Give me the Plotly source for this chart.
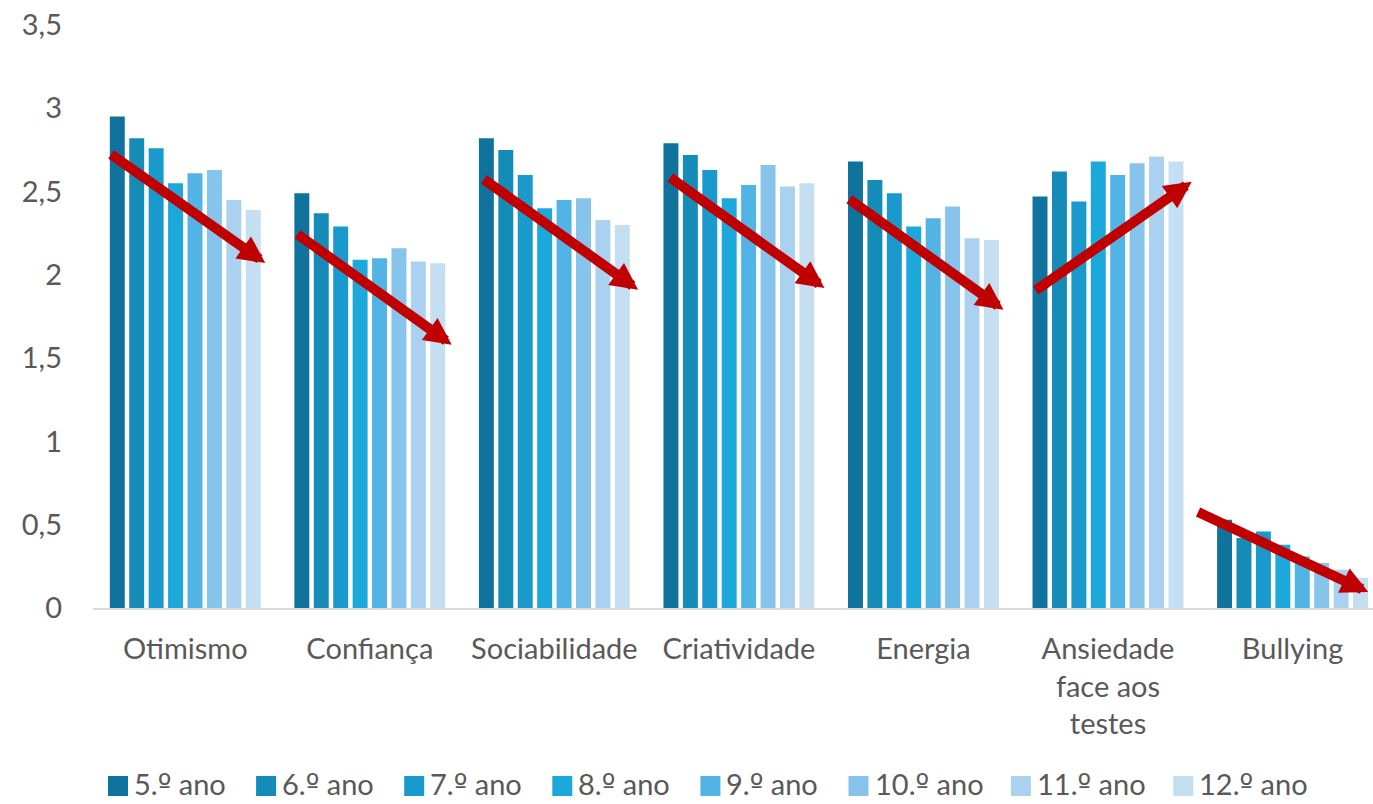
import plotly.graph_objects as go

# Dimensões avaliadas (eixo X) e anos de escolaridade (séries)
categorias = ["Otimismo", "Confiança", "Sociabilidade", "Criatividade",
              "Energia", "Ansiedade<br>face aos<br>testes", "Bullying"]
anos = ["5.º ano", "6.º ano", "7.º ano", "8.º ano",
        "9.º ano", "10.º ano", "11.º ano", "12.º ano"]

# Médias por dimensão, uma lista por ano
ano_5 = [2.95, 2.49, 2.82, 2.79, 2.68, 2.47, 0.53]
ano_6 = [2.82, 2.37, 2.75, 2.72, 2.57, 2.62, 0.42]
ano_7 = [2.76, 2.29, 2.60, 2.63, 2.49, 2.44, 0.46]
ano_8 = [2.55, 2.09, 2.40, 2.46, 2.29, 2.68, 0.38]
ano_9 = [2.61, 2.10, 2.45, 2.54, 2.34, 2.60, 0.31]
ano_10 = [2.63, 2.16, 2.46, 2.66, 2.41, 2.67, 0.27]
ano_11 = [2.45, 2.08, 2.33, 2.53, 2.22, 2.71, 0.23]
ano_12 = [2.39, 2.07, 2.30, 2.55, 2.21, 2.68, 0.18]
series = [ano_5, ano_6, ano_7, ano_8, ano_9, ano_10, ano_11, ano_12]

cores = ["#10739E", "#158BB8", "#1999CC", "#1DA8DB",
         "#52B4E4", "#86C4EB", "#AAD2F0", "#C4DFF2"]

# Setas de tendência: nível inicial e final de cada dimensão
seta_inicio = [2.73, 2.25, 2.58, 2.59, 2.46, 1.90, 0.58]
seta_fim = [2.05, 1.56, 1.89, 1.90, 1.77, 2.58, 0.08]
# extensão horizontal das setas em relação ao centro do grupo
seta_dx0 = [-0.41, -0.40, -0.39, -0.38, -0.41, -0.40, -0.52]
seta_dx1 = [0.46, 0.47, 0.48, 0.49, 0.46, 0.48, 0.44]

FONTE = "Lato"
CINZA = "#595959"
TAM = 29


def rotulo(txt):
    # o indicador ordinal "º" sublinhado vem de outra família
    return txt.replace("º", '<span style="font-family:DejaVu Sans">º</span>')


fig = go.Figure()
for nome, valores, cor in zip(anos, series, cores):
    fig.add_trace(go.Bar(
        x=categorias, y=valores, name=nome,
        marker=dict(color=cor, line=dict(width=0)),
        showlegend=False,
    ))

# Setas vermelhas sobre cada grupo
for i, (y0, y1, d0, d1) in enumerate(zip(seta_inicio, seta_fim, seta_dx0, seta_dx1)):
    fig.add_annotation(
        x=i + d1, y=y1, ax=i + d0, ay=y0,
        xref="x", yref="y", axref="x", ayref="y",
        text="", showarrow=True,
        arrowhead=2, arrowsize=0.54, arrowwidth=10,
        arrowcolor="#C00000", standoff=6,
    )

# Legenda desenhada à mão (quadrados maiores)
largura_plot = 1373 - 93
altura_plot = 608 - 25
x_px = 108
for nome, cor in zip(anos, cores):
    x0 = (x_px - 93) / largura_plot
    x1 = (x_px + 20 - 93) / largura_plot
    fig.add_shape(type="rect", xref="paper", yref="paper",
                  x0=x0, x1=x1,
                  y0=(608 - 796) / altura_plot, y1=(608 - 776) / altura_plot,
                  fillcolor=cor, line=dict(width=0))
    fig.add_annotation(x=(x_px + 24 - 93) / largura_plot,
                       y=(608 - 784) / altura_plot,
                       xref="paper", yref="paper", text=rotulo(nome),
                       showarrow=False, xanchor="left", yanchor="middle",
                       font=dict(family=FONTE, size=TAM, color=CINZA))
    x_px += 48 + len(nome) * 14.3

fig.update_layout(
    width=1373, height=804,
    margin=dict(l=93, r=0, t=25, b=196),
    paper_bgcolor="white", plot_bgcolor="white",
    barmode="group", bargap=0.158, bargroupgap=0.23,
    font=dict(family=FONTE, size=TAM, color=CINZA),
    separators=", ",
)
fig.update_xaxes(
    range=[-0.5, 6.436], showgrid=False, zeroline=False,
    showline=True, linecolor="#D9D9D9", linewidth=2,
    ticks="", ticklabelstandoff=14,
    tickfont=dict(family=FONTE, size=TAM, color=CINZA),
)
fig.update_yaxes(
    range=[0, 3.5], dtick=0.5, showgrid=False, zeroline=False,
    showline=False, ticks="", ticklabelstandoff=30,
    tickformat=".1~f",
    tickfont=dict(family=FONTE, size=TAM, color=CINZA),
)

fig.write_html("out.html")
